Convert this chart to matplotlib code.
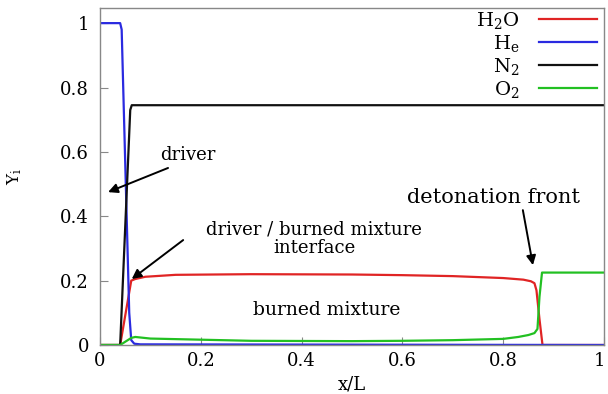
import matplotlib
matplotlib.use("Agg")
import matplotlib.pyplot as plt
from matplotlib.transforms import ScaledTranslation

# Species mass fractions along the tube (x/L)
x_h2o = [0, 0.04, 0.062, 0.07, 0.09, 0.15, 0.3, 0.5, 0.6, 0.7, 0.8, 0.84, 0.855, 0.862, 0.866, 0.872, 0.878, 1.0]
y_h2o = [0, 0, 0.20, 0.205, 0.212, 0.218, 0.22, 0.219, 0.217, 0.214, 0.208, 0.203, 0.198, 0.192, 0.17, 0.08, 0, 0]

x_he = [0, 0.04, 0.043, 0.058, 0.062, 0.068, 0.08, 1.0]
y_he = [1, 1, 0.98, 0.10, 0.015, 0.004, 0.002, 0.0]

x_n2 = [0, 0.04, 0.06, 0.063, 1.0]
y_n2 = [0, 0, 0.73, 0.745, 0.745]

x_o2 = [0, 0.04, 0.062, 0.07, 0.1, 0.3, 0.5, 0.6, 0.7, 0.8, 0.83, 0.85, 0.862, 0.868, 0.872, 0.877, 1.0]
y_o2 = [0, 0, 0.022, 0.025, 0.02, 0.013, 0.012, 0.013, 0.015, 0.019, 0.025, 0.031, 0.037, 0.05, 0.15, 0.225, 0.225]

labels = ["H$_2$O", "H$_\\mathrm{e}$", "N$_2$", "O$_2$"]
colors = ["#e02424", "#2a2ae0", "#111111", "#22c022"]

xticks = [0, 0.2, 0.4, 0.6, 0.8, 1]
xticklabels = ["0", "0.2", "0.4", "0.6", "0.8", "1"]
yticks = [0, 0.2, 0.4, 0.6, 0.8, 1]
yticklabels = ["0", "0.2", "0.4", "0.6", "0.8", "1"]

plt.rcParams["font.family"] = ["DejaVu Serif"]
plt.rcParams["mathtext.fontset"] = "dejavuserif"

fig = plt.figure(figsize=(6.08, 3.94), dpi=100)
ax = fig.add_axes([100 / 608, 49 / 394, 504 / 608, 337 / 394])

series = [(x_h2o, y_h2o), (x_he, y_he), (x_n2, y_n2), (x_o2, y_o2)]
for (xs, ys), lab, col in zip(series, labels, colors):
    ax.plot(xs, ys, color=col, lw=1.6, label=lab)

ax.set_xlim(0, 1)
ax.set_ylim(0, 1.047)
ax.set_xticks(xticks)
ax.set_xticklabels(xticklabels)
ax.set_yticks(yticks)
ax.set_yticklabels(yticklabels)
ax.tick_params(direction="in", length=6, color="#888888", labelsize=13)
ax.tick_params(axis="y", pad=8)
ax.tick_params(axis="x", pad=5)
for sp in ax.spines.values():
    sp.set_color("#888888")
    sp.set_linewidth(1.0)

# keep the last x tick label inside the figure edge
last = ax.get_xticklabels()[-1]
last.set_transform(last.get_transform() + ScaledTranslation(-4 / 100, 0, fig.dpi_scale_trans))

ax.set_xlabel("x/L", fontsize=13, labelpad=4)
ax.set_ylabel("Y$_\\mathrm{i}$", fontsize=12, labelpad=26)

leg = ax.legend(loc="upper right", bbox_to_anchor=(0.986, 0.994),
                frameon=False, markerfirst=False,
                fontsize=14, handlelength=3.0, handletextpad=1.0,
                labelspacing=0.1, borderaxespad=0.0, borderpad=0.0)

arrow = dict(arrowstyle="-|>", color="black", lw=1.4, mutation_scale=14,
             shrinkA=0, shrinkB=0)

ax.annotate("", xy=(0.016, 0.475), xytext=(0.135, 0.55), arrowprops=arrow)
ax.text(0.175, 0.59, "driver", fontsize=13, ha="center", va="center")

ax.annotate("", xy=(0.063, 0.205), xytext=(0.165, 0.326), arrowprops=arrow)
ax.text(0.425, 0.33, "driver / burned mixture\ninterface", fontsize=13,
        ha="center", va="center", linespacing=1.0)

ax.annotate("", xy=(0.859, 0.248), xytext=(0.839, 0.419), arrowprops=arrow)
ax.text(0.78, 0.457, "detonation front", fontsize=15, ha="center", va="center")

ax.text(0.45, 0.109, "burned mixture", fontsize=13.5, ha="center", va="center")

fig.savefig("out.png", dpi=100)
